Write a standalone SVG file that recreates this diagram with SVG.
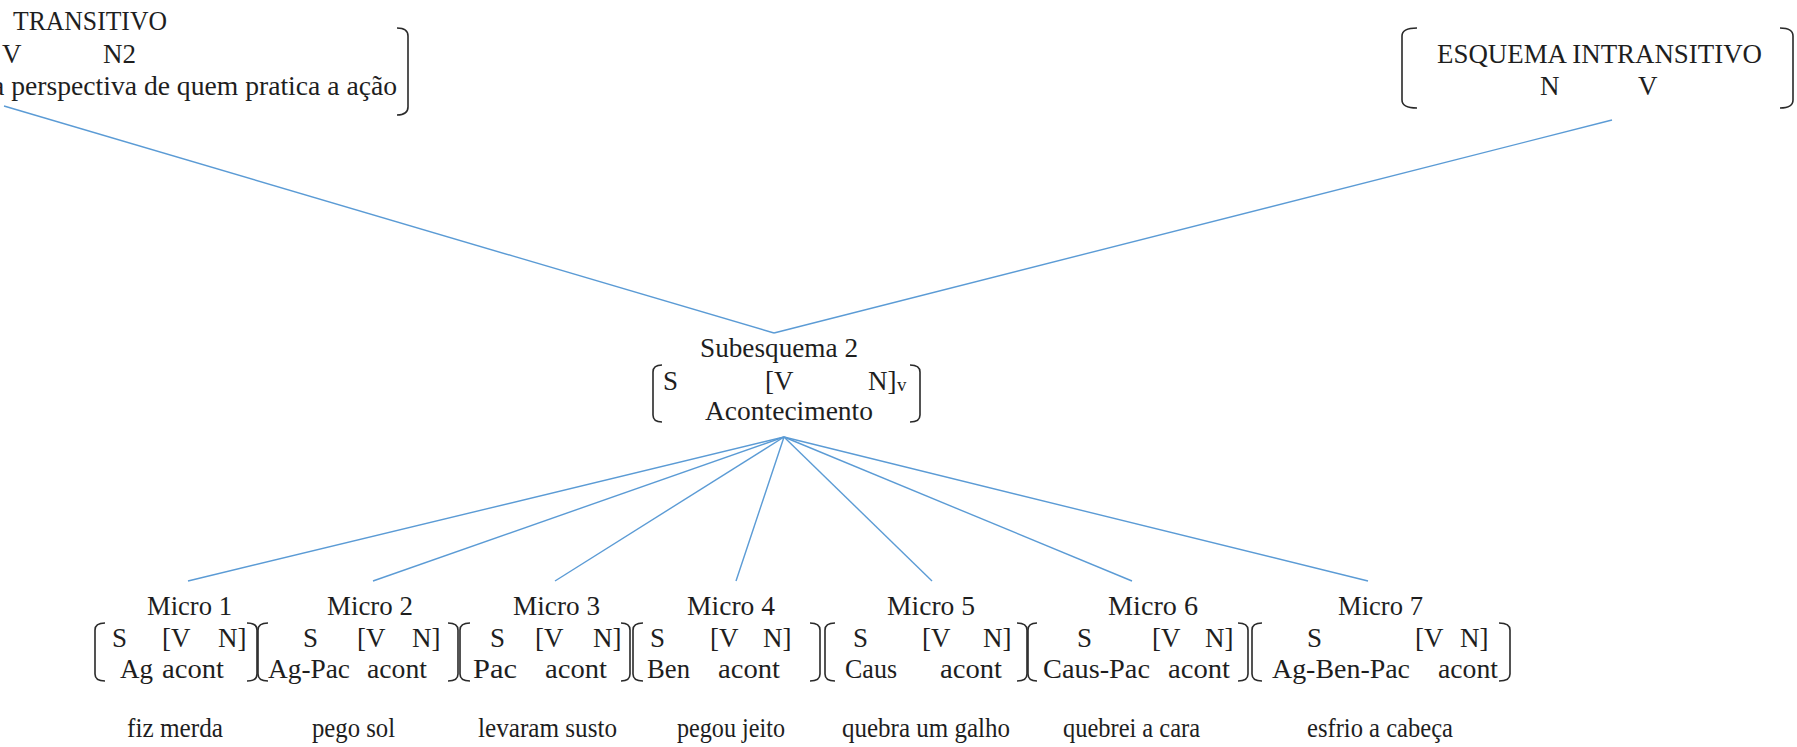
<svg xmlns="http://www.w3.org/2000/svg" width="1797" height="747" viewBox="0 0 1797 747">
<style>
  text { font-family: "Liberation Serif", "Times New Roman", serif; font-size: 27px; fill: #1e1e1e; }
  .sub { font-size: 19px; }
  .br { fill: none; stroke: #2a2a2a; stroke-width: 1.6; }
  .ln { stroke: #5B9BD5; stroke-width: 1.4; fill: none; }
</style>
<rect width="1797" height="747" fill="#ffffff"/>

<g id="connectors">
  <line class="ln" x1="4" y1="106" x2="774" y2="333"/>
  <line class="ln" x1="1612" y1="120" x2="774" y2="333"/>
  <line class="ln" x1="784" y1="437" x2="188" y2="581"/>
  <line class="ln" x1="784" y1="437" x2="373" y2="581"/>
  <line class="ln" x1="784" y1="437" x2="555" y2="581"/>
  <line class="ln" x1="784" y1="437" x2="736" y2="581"/>
  <line class="ln" x1="784" y1="437" x2="932" y2="581"/>
  <line class="ln" x1="784" y1="437" x2="1132" y2="581"/>
  <line class="ln" x1="784" y1="437" x2="1368" y2="581"/>
</g>

<g id="esquema-transitivo">
  <text x="13" y="30" textLength="154" lengthAdjust="spacingAndGlyphs">TRANSITIVO</text>
  <text x="2" y="63">V</text>
  <text x="103" y="63">N2</text>
  <text x="-8" y="95" textLength="405" lengthAdjust="spacingAndGlyphs">a perspectiva de quem pratica a ação</text>
  <path class="br" d="M397 28 Q408 28 408 36 L408 107 Q408 115 397 115"/>
</g>

<g id="esquema-intransitivo">
  <path class="br" d="M1417 28 Q1402 28 1402 36 L1402 100 Q1402 108 1417 108"/>
  <text x="1437" y="63" textLength="325" lengthAdjust="spacingAndGlyphs">ESQUEMA INTRANSITIVO</text>
  <text x="1540" y="95">N</text>
  <text x="1638" y="95">V</text>
  <path class="br" d="M1780 28 Q1793 28 1793 36 L1793 100 Q1793 108 1780 108"/>
</g>

<g id="subesquema-2">
  <text x="700" y="357" textLength="158" lengthAdjust="spacingAndGlyphs">Subesquema 2</text>
  <path class="br" d="M662 365 Q653 365 653 372 L653 415 Q653 422 662 422"/>
  <text x="663" y="390">S</text>
  <text x="765" y="390">[V</text>
  <text x="868" y="390">N]</text>
  <text class="sub" x="897" y="391">v</text>
  <text x="705" y="420" textLength="168" lengthAdjust="spacingAndGlyphs">Acontecimento</text>
  <path class="br" d="M910 365 Q920 365 920 372 L920 415 Q920 422 910 422"/>
</g>

<g id="micro-1">
  <text x="147" y="615" textLength="85" lengthAdjust="spacingAndGlyphs">Micro 1</text>
  <path class="br" d="M105 623 Q95 623 95 630 L95 674 Q95 681 105 681"/>
  <text x="112" y="647">S</text>
  <text x="162" y="647">[V</text>
  <text x="218" y="647">N]</text>
  <text x="120" y="678">Ag</text>
  <text x="162" y="678" textLength="62" lengthAdjust="spacingAndGlyphs">acont</text>
  <path class="br" d="M247 623 Q257 623 257 630 L257 674 Q257 681 247 681"/>
  <text x="127" y="737" textLength="96" lengthAdjust="spacingAndGlyphs">fiz merda</text>
</g>

<g id="micro-2">
  <text x="327" y="615" textLength="86" lengthAdjust="spacingAndGlyphs">Micro 2</text>
  <path class="br" d="M268 623 Q258 623 258 630 L258 674 Q258 681 268 681"/>
  <text x="303" y="647">S</text>
  <text x="357" y="647">[V</text>
  <text x="412" y="647">N]</text>
  <text x="268" y="678" textLength="82" lengthAdjust="spacingAndGlyphs">Ag-Pac</text>
  <text x="367" y="678" textLength="60" lengthAdjust="spacingAndGlyphs">acont</text>
  <path class="br" d="M448 623 Q458 623 458 630 L458 674 Q458 681 448 681"/>
  <text x="312" y="737" textLength="83" lengthAdjust="spacingAndGlyphs">pego sol</text>
</g>

<g id="micro-3">
  <text x="513" y="615" textLength="87" lengthAdjust="spacingAndGlyphs">Micro 3</text>
  <path class="br" d="M470 623 Q460 623 460 630 L460 674 Q460 681 470 681"/>
  <text x="490" y="647">S</text>
  <text x="535" y="647">[V</text>
  <text x="593" y="647">N]</text>
  <text x="473" y="678" textLength="44" lengthAdjust="spacingAndGlyphs">Pac</text>
  <text x="545" y="678" textLength="62" lengthAdjust="spacingAndGlyphs">acont</text>
  <path class="br" d="M621 623 Q630 623 630 630 L630 674 Q630 681 621 681"/>
  <text x="478" y="737" textLength="139" lengthAdjust="spacingAndGlyphs">levaram susto</text>
</g>

<g id="micro-4">
  <text x="687" y="615" textLength="88" lengthAdjust="spacingAndGlyphs">Micro 4</text>
  <path class="br" d="M643 623 Q633 623 633 630 L633 674 Q633 681 643 681"/>
  <text x="650" y="647">S</text>
  <text x="710" y="647">[V</text>
  <text x="763" y="647">N]</text>
  <text x="647" y="678" textLength="43" lengthAdjust="spacingAndGlyphs">Ben</text>
  <text x="718" y="678" textLength="62" lengthAdjust="spacingAndGlyphs">acont</text>
  <path class="br" d="M810 623 Q820 623 820 630 L820 674 Q820 681 810 681"/>
  <text x="677" y="737" textLength="108" lengthAdjust="spacingAndGlyphs">pegou jeito</text>
</g>

<g id="micro-5">
  <text x="887" y="615" textLength="88" lengthAdjust="spacingAndGlyphs">Micro 5</text>
  <path class="br" d="M835 623 Q825 623 825 630 L825 674 Q825 681 835 681"/>
  <text x="853" y="647">S</text>
  <text x="922" y="647">[V</text>
  <text x="983" y="647">N]</text>
  <text x="845" y="678" textLength="52" lengthAdjust="spacingAndGlyphs">Caus</text>
  <text x="940" y="678" textLength="62" lengthAdjust="spacingAndGlyphs">acont</text>
  <path class="br" d="M1017 623 Q1027 623 1027 630 L1027 674 Q1027 681 1017 681"/>
  <text x="842" y="737" textLength="168" lengthAdjust="spacingAndGlyphs">quebra um galho</text>
</g>

<g id="micro-6">
  <text x="1108" y="615" textLength="90" lengthAdjust="spacingAndGlyphs">Micro 6</text>
  <path class="br" d="M1037 623 Q1028 623 1028 630 L1028 674 Q1028 681 1037 681"/>
  <text x="1077" y="647">S</text>
  <text x="1152" y="647">[V</text>
  <text x="1205" y="647">N]</text>
  <text x="1043" y="678" textLength="107" lengthAdjust="spacingAndGlyphs">Caus-Pac</text>
  <text x="1168" y="678" textLength="62" lengthAdjust="spacingAndGlyphs">acont</text>
  <path class="br" d="M1238 623 Q1248 623 1248 630 L1248 674 Q1248 681 1238 681"/>
  <text x="1063" y="737" textLength="137" lengthAdjust="spacingAndGlyphs">quebrei a cara</text>
</g>

<g id="micro-7">
  <text x="1338" y="615" textLength="85" lengthAdjust="spacingAndGlyphs">Micro 7</text>
  <path class="br" d="M1262 623 Q1252 623 1252 630 L1252 674 Q1252 681 1262 681"/>
  <text x="1307" y="647">S</text>
  <text x="1415" y="647">[V</text>
  <text x="1460" y="647">N]</text>
  <text x="1272" y="678" textLength="138" lengthAdjust="spacingAndGlyphs">Ag-Ben-Pac</text>
  <text x="1438" y="678" textLength="60" lengthAdjust="spacingAndGlyphs">acont</text>
  <path class="br" d="M1499 623 Q1510 623 1510 630 L1510 674 Q1510 681 1499 681"/>
  <text x="1307" y="737" textLength="146" lengthAdjust="spacingAndGlyphs">esfrio a cabeça</text>
</g>
</svg>
